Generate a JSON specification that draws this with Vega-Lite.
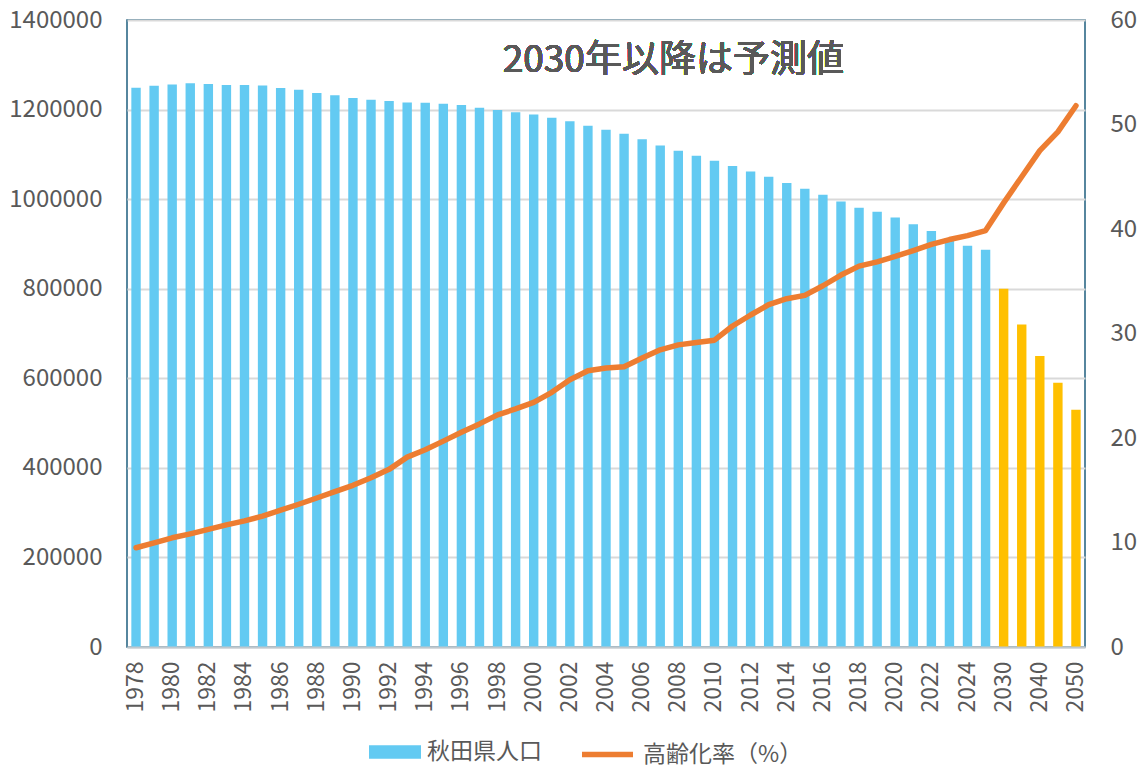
{
  "$schema": "https://vega.github.io/schema/vega-lite/v6.json",
  "autosize": {"type": "none"},
  "width": 958,
  "height": 627,
  "padding": {"left": 127, "top": 20, "right": 55, "bottom": 121},
  "background": "#ffffff",
  "config": {
    "font": "Noto Sans CJK JP",
    "view": {"stroke": "#1F5F7F", "strokeWidth": 1.5},
    "axis": {"labelFont": "Noto Sans CJK JP", "labelColor": "#595959", "ticks": false, "titleFontSize": 0}
  },
  "data": {
    "values": [
      {"year": "1978", "pop": 1249000, "rate": 9.50, "kind": "actual"},
      {"year": "1979", "pop": 1253000, "rate": 9.97, "kind": "actual"},
      {"year": "1980", "pop": 1256000, "rate": 10.45, "kind": "actual"},
      {"year": "1981", "pop": 1259000, "rate": 10.83, "kind": "actual"},
      {"year": "1982", "pop": 1257000, "rate": 11.25, "kind": "actual"},
      {"year": "1983", "pop": 1255000, "rate": 11.69, "kind": "actual"},
      {"year": "1984", "pop": 1255000, "rate": 12.07, "kind": "actual"},
      {"year": "1985", "pop": 1254000, "rate": 12.52, "kind": "actual"},
      {"year": "1986", "pop": 1248000, "rate": 13.09, "kind": "actual"},
      {"year": "1987", "pop": 1244000, "rate": 13.66, "kind": "actual"},
      {"year": "1988", "pop": 1237000, "rate": 14.26, "kind": "actual"},
      {"year": "1989", "pop": 1232000, "rate": 14.87, "kind": "actual"},
      {"year": "1990", "pop": 1226000, "rate": 15.47, "kind": "actual"},
      {"year": "1991", "pop": 1222000, "rate": 16.20, "kind": "actual"},
      {"year": "1992", "pop": 1219000, "rate": 17.00, "kind": "actual"},
      {"year": "1993", "pop": 1216000, "rate": 18.17, "kind": "actual"},
      {"year": "1994", "pop": 1215000, "rate": 18.87, "kind": "actual"},
      {"year": "1995", "pop": 1213000, "rate": 19.70, "kind": "actual"},
      {"year": "1996", "pop": 1210000, "rate": 20.55, "kind": "actual"},
      {"year": "1997", "pop": 1204000, "rate": 21.35, "kind": "actual"},
      {"year": "1998", "pop": 1199000, "rate": 22.21, "kind": "actual"},
      {"year": "1999", "pop": 1194000, "rate": 22.78, "kind": "actual"},
      {"year": "2000", "pop": 1189000, "rate": 23.41, "kind": "actual"},
      {"year": "2001", "pop": 1182000, "rate": 24.37, "kind": "actual"},
      {"year": "2002", "pop": 1174000, "rate": 25.58, "kind": "actual"},
      {"year": "2003", "pop": 1164000, "rate": 26.43, "kind": "actual"},
      {"year": "2004", "pop": 1155000, "rate": 26.69, "kind": "actual"},
      {"year": "2005", "pop": 1146000, "rate": 26.82, "kind": "actual"},
      {"year": "2006", "pop": 1134000, "rate": 27.65, "kind": "actual"},
      {"year": "2007", "pop": 1120000, "rate": 28.44, "kind": "actual"},
      {"year": "2008", "pop": 1108000, "rate": 28.91, "kind": "actual"},
      {"year": "2009", "pop": 1097000, "rate": 29.13, "kind": "actual"},
      {"year": "2010", "pop": 1086000, "rate": 29.36, "kind": "actual"},
      {"year": "2011", "pop": 1074000, "rate": 30.72, "kind": "actual"},
      {"year": "2012", "pop": 1062000, "rate": 31.77, "kind": "actual"},
      {"year": "2013", "pop": 1050000, "rate": 32.76, "kind": "actual"},
      {"year": "2014", "pop": 1036000, "rate": 33.33, "kind": "actual"},
      {"year": "2015", "pop": 1023000, "rate": 33.65, "kind": "actual"},
      {"year": "2016", "pop": 1010000, "rate": 34.57, "kind": "actual"},
      {"year": "2017", "pop": 995000, "rate": 35.59, "kind": "actual"},
      {"year": "2018", "pop": 981000, "rate": 36.45, "kind": "actual"},
      {"year": "2019", "pop": 972000, "rate": 36.86, "kind": "actual"},
      {"year": "2020", "pop": 959000, "rate": 37.37, "kind": "actual"},
      {"year": "2021", "pop": 944000, "rate": 37.94, "kind": "actual"},
      {"year": "2022", "pop": 929000, "rate": 38.52, "kind": "actual"},
      {"year": "2023", "pop": 913000, "rate": 38.99, "kind": "actual"},
      {"year": "2024", "pop": 896000, "rate": 39.37, "kind": "actual"},
      {"year": "2025", "pop": 887000, "rate": 39.85, "kind": "actual"},
      {"year": "2030", "pop": 800000, "rate": 42.5, "kind": "forecast"},
      {"year": "2035", "pop": 720000, "rate": 45.0, "kind": "forecast"},
      {"year": "2040", "pop": 650000, "rate": 47.5, "kind": "forecast"},
      {"year": "2045", "pop": 590000, "rate": 49.3, "kind": "forecast"},
      {"year": "2050", "pop": 530000, "rate": 51.8, "kind": "forecast"}
    ]
  },
  "encoding": {
    "x": {
      "field": "year",
      "type": "ordinal",
      "sort": null,
      "scale": {"paddingInner": 0.48, "paddingOuter": 0.24},
      "axis": {
        "title": null,
        "values": ["1978","1980","1982","1984","1986","1988","1990","1992","1994","1996","1998","2000","2002","2004","2006","2008","2010","2012","2014","2016","2018","2020","2022","2024","2030","2040","2050"],
        "labelAngle": -90,
        "labelFontSize": 23,
        "labelPadding": 14,
        "domainColor": "#BFC8CE",
        "domainWidth": 2,
        "zindex": 1
      }
    }
  },
  "layer": [
    {
      "layer": [
        {
          "transform": [{"filter": "datum.kind === 'actual'"}],
          "mark": {"type": "bar"},
          "encoding": {
            "y": {
              "field": "pop",
              "type": "quantitative",
              "scale": {"domain": [0, 1400000], "nice": false},
              "axis": {
                "title": null,
                "values": [0, 200000, 400000, 600000, 800000, 1000000, 1200000, 1400000],
                "format": "d",
                "labelFontSize": 24,
                "labelPadding": 25,
                "domain": false,
                "gridColor": "#D9D9D9",
                "gridWidth": 2
              }
            },
            "fill": {
              "datum": "秋田県人口",
              "type": "nominal",
              "scale": {"range": ["#63CAF2"]},
              "legend": {
                "title": null,
                "orient": "none",
                "legendX": 242,
                "legendY": 706,
                "direction": "horizontal",
                "symbolType": "M-1,-0.26H1V0.26H-1Z",
                "symbolSize": 2704,
                "symbolStrokeWidth": 0,
                "labelFontSize": 23,
                "labelColor": "#595959",
                "labelOffset": 6
              }
            }
          }
        },
        {
          "transform": [{"filter": "datum.kind === 'forecast'"}],
          "mark": {"type": "bar", "color": "#FFC000"},
          "encoding": {
            "y": {"field": "pop", "type": "quantitative"}
          }
        },
        {
          "mark": {"type": "text", "text": "2030年以降は予測値", "fontSize": 37, "fill": "#595959", "strokeWidth": 0, "align": "center", "baseline": "middle", "dx": -5},
          "encoding": {
            "x": {"datum": "2008"},
            "y": {"datum": 1308000}
          }
        }
      ]
    },
    {
      "mark": {"type": "line", "strokeWidth": 5.5, "strokeCap": "round", "strokeJoin": "round"},
      "encoding": {
        "y": {
          "field": "rate",
          "type": "quantitative",
          "scale": {"domain": [0, 60], "nice": false},
          "axis": {
            "title": null,
            "orient": "right",
            "values": [0, 10, 20, 30, 40, 50, 60],
            "labelFontSize": 24,
            "labelPadding": 25,
            "domain": false,
            "grid": false
          }
        },
        "stroke": {
          "datum": "高齢化率（%）",
          "type": "nominal",
          "scale": {"range": ["#ED7D31"]},
          "legend": {
            "title": null,
            "orient": "none",
            "legendX": 452,
            "legendY": 706,
            "direction": "horizontal",
            "symbolType": "stroke",
            "symbolSize": 2601,
            "symbolStrokeWidth": 5.5,
            "symbolStrokeColor": "#ED7D31",
            "labelFontSize": 23,
            "labelColor": "#595959",
            "labelOffset": 7
          }
        }
      }
    }
  ],
  "resolve": {"scale": {"y": "independent"}}
}
